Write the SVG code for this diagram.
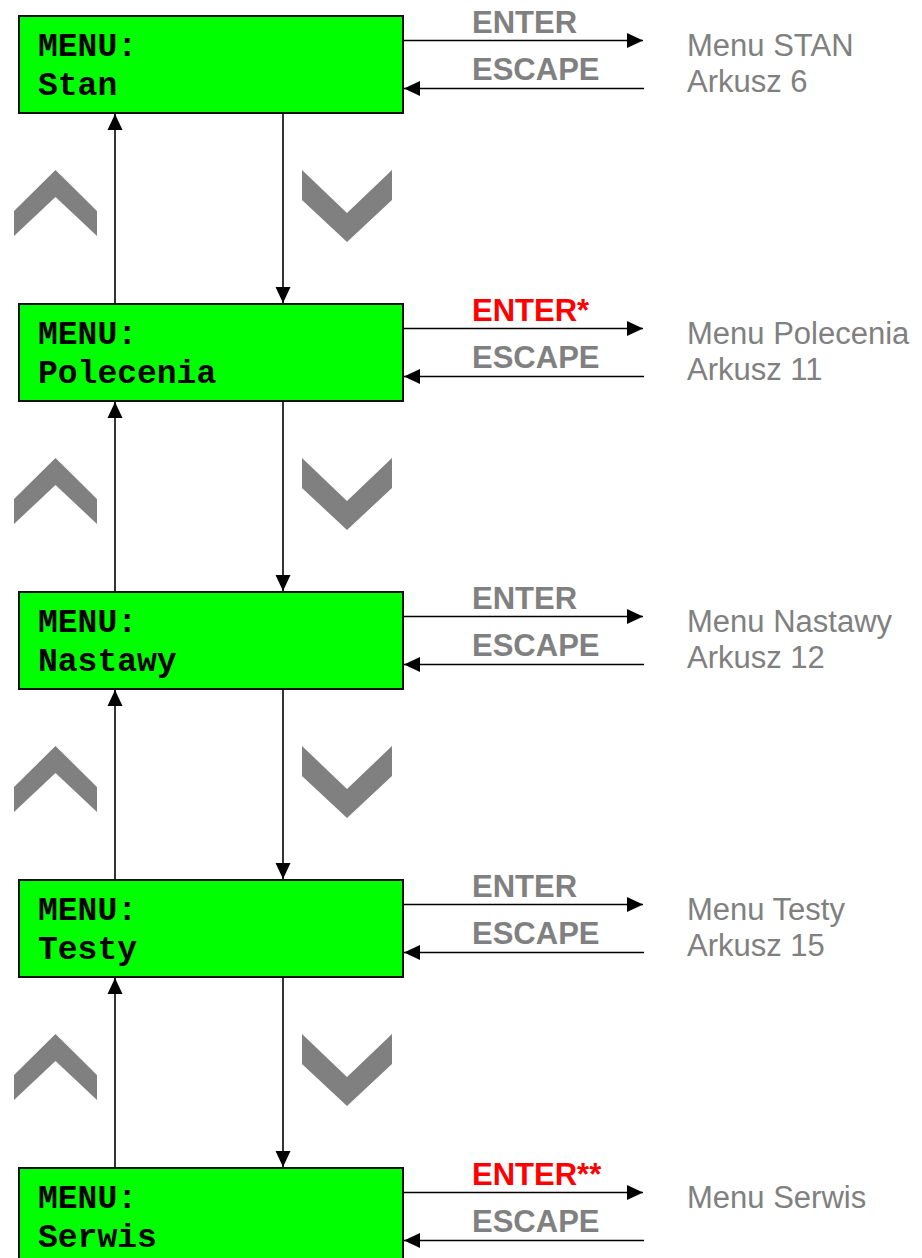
<svg xmlns="http://www.w3.org/2000/svg" width="922" height="1258" viewBox="0 0 922 1258">
<style>
.box{fill:#00ff00;stroke:#111;stroke-width:2}
.mono{font-family:"Liberation Mono","Courier New",monospace;font-weight:bold;font-size:33px;fill:#000}
.key{font-family:"Liberation Sans",Arial,sans-serif;font-weight:bold;font-size:31px;fill:#808080}
.red{fill:#ff0000}
.dest{font-family:"Liberation Sans",Arial,sans-serif;font-size:31px;fill:#808080}
.ln{stroke:#000;stroke-width:1.6;fill:none}
.chev{fill:#808080}
</style>
<defs>
<marker id="ah" markerUnits="userSpaceOnUse" markerWidth="16" markerHeight="16" viewBox="0 0 16 16" refX="16" refY="8" orient="auto">
<path d="M0,0.5 L16,8 L0,15.5 z" fill="#000"/>
</marker>
<polygon id="up" points="55.5,170 97,211 97,236 55.5,197 14,236 14,211"/>
<polygon id="down" points="302,170 347,213 392,170 392,200 347,242 302,200"/>
</defs>

<g id="connectors">
<line class="ln" x1="115" y1="304" x2="115" y2="114" marker-end="url(#ah)"/>
<line class="ln" x1="283" y1="113" x2="283" y2="303" marker-end="url(#ah)"/>
<line class="ln" x1="115" y1="592" x2="115" y2="402" marker-end="url(#ah)"/>
<line class="ln" x1="283" y1="401" x2="283" y2="591" marker-end="url(#ah)"/>
<line class="ln" x1="115" y1="880" x2="115" y2="690" marker-end="url(#ah)"/>
<line class="ln" x1="283" y1="689" x2="283" y2="879" marker-end="url(#ah)"/>
<line class="ln" x1="115" y1="1168" x2="115" y2="978" marker-end="url(#ah)"/>
<line class="ln" x1="283" y1="977" x2="283" y2="1167" marker-end="url(#ah)"/>
<line class="ln" x1="403" y1="40.5" x2="643" y2="40.5" marker-end="url(#ah)"/>
<line class="ln" x1="644" y1="88.5" x2="404" y2="88.5" marker-end="url(#ah)"/>
<line class="ln" x1="403" y1="328.5" x2="643" y2="328.5" marker-end="url(#ah)"/>
<line class="ln" x1="644" y1="376.5" x2="404" y2="376.5" marker-end="url(#ah)"/>
<line class="ln" x1="403" y1="616.5" x2="643" y2="616.5" marker-end="url(#ah)"/>
<line class="ln" x1="644" y1="664.5" x2="404" y2="664.5" marker-end="url(#ah)"/>
<line class="ln" x1="403" y1="904.5" x2="643" y2="904.5" marker-end="url(#ah)"/>
<line class="ln" x1="644" y1="952.5" x2="404" y2="952.5" marker-end="url(#ah)"/>
<line class="ln" x1="403" y1="1192.5" x2="643" y2="1192.5" marker-end="url(#ah)"/>
<line class="ln" x1="644" y1="1240.5" x2="404" y2="1240.5" marker-end="url(#ah)"/>
</g>

<g id="chevrons" class="chev">
<use href="#up"/><use href="#down"/>
<use href="#up" y="288"/><use href="#down" y="288"/>
<use href="#up" y="576"/><use href="#down" y="576"/>
<use href="#up" y="864"/><use href="#down" y="864"/>
</g>

<g id="node-stan">
<rect class="box" x="19" y="16" width="384" height="97"/>
<text class="mono" x="38" y="56">MENU:</text>
<text class="mono" x="38" y="95">Stan</text>
</g>
<g id="node-polecenia">
<rect class="box" x="19" y="304" width="384" height="97"/>
<text class="mono" x="38" y="344">MENU:</text>
<text class="mono" x="38" y="383">Polecenia</text>
</g>
<g id="node-nastawy">
<rect class="box" x="19" y="592" width="384" height="97"/>
<text class="mono" x="38" y="632">MENU:</text>
<text class="mono" x="38" y="671">Nastawy</text>
</g>
<g id="node-testy">
<rect class="box" x="19" y="880" width="384" height="97"/>
<text class="mono" x="38" y="920">MENU:</text>
<text class="mono" x="38" y="959">Testy</text>
</g>
<g id="node-serwis">
<rect class="box" x="19" y="1168" width="384" height="97"/>
<text class="mono" x="38" y="1208">MENU:</text>
<text class="mono" x="38" y="1247">Serwis</text>
</g>

<g id="labels">
<text class="key" x="472" y="33">ENTER</text>
<text class="key" x="472" y="80">ESCAPE</text>
<text class="key red" x="472" y="321">ENTER*</text>
<text class="key" x="472" y="368">ESCAPE</text>
<text class="key" x="472" y="609">ENTER</text>
<text class="key" x="472" y="656">ESCAPE</text>
<text class="key" x="472" y="897">ENTER</text>
<text class="key" x="472" y="944">ESCAPE</text>
<text class="key red" x="472" y="1185">ENTER**</text>
<text class="key" x="472" y="1232">ESCAPE</text>
</g>

<g id="destinations">
<text class="dest" x="687" y="56">Menu STAN</text>
<text class="dest" x="687" y="92">Arkusz 6</text>
<text class="dest" x="687" y="344">Menu Polecenia</text>
<text class="dest" x="687" y="380">Arkusz 11</text>
<text class="dest" x="687" y="632">Menu Nastawy</text>
<text class="dest" x="687" y="668">Arkusz 12</text>
<text class="dest" x="687" y="920">Menu Testy</text>
<text class="dest" x="687" y="956">Arkusz 15</text>
<text class="dest" x="687" y="1208">Menu Serwis</text>
</g>
</svg>
